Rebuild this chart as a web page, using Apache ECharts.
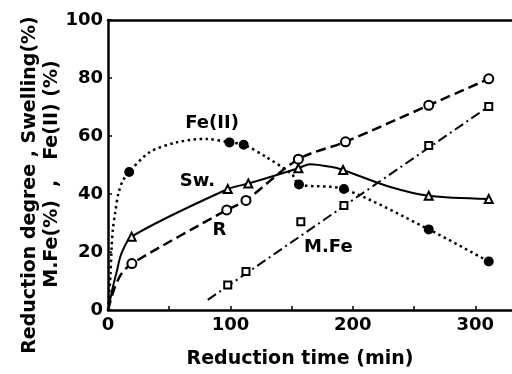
<!DOCTYPE html>
<html lang="en">
  <head>
    <meta charset="UTF-8" />
    <title>Reduction time chart</title>
    <script src="https://cdnjs.cloudflare.com/ajax/libs/echarts/6.0.0/echarts.min.js"></script>
    <style>
      html, body { margin: 0; padding: 0; background: #fff; }
      #chart { width: 512px; height: 374px; }
    </style>
  </head>
  <body>
    <div id="chart"></div>
    <script type="text/javascript">
      // x ticks / labels
      const xTicks = [50, 100, 150, 200, 250, 300];
      const xLabels = [0, 100, 200, 300];

      // measured points [time (min), value (%)]
      const rPoints = [[19.5, 16], [97, 34.5], [112.7, 37.8], [155.5, 52], [194, 58], [262, 70.6], [311, 79.7]];
      const swPoints = [[19.3, 25.3], [97.8, 41.7], [114.6, 43.6], [155.5, 48.9], [192, 48.3], [262, 39.4], [311, 38.3]];
      const feIIPoints = [[17.3, 47.6], [99.2, 57.8], [110.8, 57], [156, 43.3], [192.7, 41.7], [262, 27.8], [311, 16.7]];
      const mFePoints = [[97.8, 8.6], [112.7, 13.3], [157.5, 30.4], [192.7, 36], [262, 56.7], [311, 70.2]];

      const rCurveExtra = [[0, 0], [3, 4.5], [5.7, 8], [11, 12.5]];
      const swCurveExtra = [[0, 0], [2, 4], [4.3, 8.5], [7, 13], [11, 19.5], [165, 50.3], [182, 49.4], [230, 42.5]];
      const feIICurveExtra = [[0, 0], [2, 12], [3, 22], [4, 28], [5.7, 33], [8.4, 40], [12, 44.5], [34, 54.4], [56, 57.8], [80, 59], [129, 52.8], [150.5, 46.7]];
      const mFeLine = [[81.5, 3.5], [311, 70.2]];

      // curve labels [x, y, text]
      const curveLabels = [[85, 64.5, "Fe(II)"], [73, 44.5, "Sw."], [91, 27.5, "R"], [180, 21.5, "M.Fe"]];

      const merge = (a, b) => a.concat(b).sort((p, q) => p[0] - q[0]);

      const dom = document.getElementById("chart");
      const myChart = echarts.init(dom);
      const font = "DejaVu Sans";

      const lineSeries = (data, type, width, extra) =>
        Object.assign(
          {
            type: "line",
            data: data,
            smooth: 0.3,
            showSymbol: false,
            silent: true,
            z: 2,
            lineStyle: { color: "#000", width: width, type: type },
          },
          extra || {}
        );

      const markSeries = (data, symbol, size, fill) => ({
        type: "scatter",
        data: data,
        symbol: symbol,
        symbolSize: size,
        z: 5,
        itemStyle: { color: fill, borderColor: "#000", borderWidth: 2, opacity: 1 },
      });

      const options = {
        animation: false,
        grid: { left: 108, right: 0, top: 20, bottom: 54 },
        xAxis: [
          {
            type: "value",
            min: 0,
            max: 330,
            name: "Reduction time (min)",
            nameLocation: "middle",
            nameGap: 40,
            nameTextStyle: { color: "#000", fontSize: 19, fontFamily: font, fontWeight: "bold", padding: [0, 20, 0, 0] },
            axisLine: { show: true, lineStyle: { color: "#000", width: 2.5 } },
            axisTick: { show: true, inside: true, length: 4, customValues: xTicks, lineStyle: { color: "#000", width: 1.5 } },
            axisLabel: { customValues: xLabels, color: "#000", fontSize: 18, fontFamily: font, fontWeight: "bold", margin: 6 },
            splitLine: { show: false },
          },
          {
            type: "value",
            position: "top",
            min: 0,
            max: 330,
            axisLine: { show: true, lineStyle: { color: "#000", width: 2.5 } },
            axisTick: { show: false },
            axisLabel: { show: false },
            splitLine: { show: false },
          },
        ],
        yAxis: {
          type: "value",
          min: 0,
          max: 100,
          interval: 20,
          axisLine: { show: true, lineStyle: { color: "#000", width: 2.5 } },
          axisTick: { show: true, inside: true, length: 4, lineStyle: { color: "#000", width: 1.5 } },
          axisLabel: { color: "#000", fontSize: 18, fontFamily: font, fontWeight: "bold", margin: 5 },
          splitLine: { show: false },
        },
        graphic: [
          {
            type: "text",
            rotation: Math.PI / 2,
            x: 30, y: 185,
            style: {
              text: "Reduction degree , Swelling(%)",
              fill: "#000",
              font: "bold 19px 'DejaVu Sans'",
              textAlign: "center",
              textVerticalAlign: "middle",
            },
          },
          {
            type: "text",
            rotation: Math.PI / 2,
            x: 52, y: 174,
            style: {
              text: "M.Fe(%)  ,   Fe(II) (%)",
              fill: "#000",
              font: "bold 19px 'DejaVu Sans'",
              textAlign: "center",
              textVerticalAlign: "middle",
            },
          },
        ],
        series: [
          lineSeries(merge(rPoints, rCurveExtra), [10, 5], 2.5),
          lineSeries(merge(swPoints, swCurveExtra), "solid", 2),
          lineSeries(merge(feIIPoints, feIICurveExtra), [2.5, 3.5], 2.5),
          lineSeries(mFeLine, [10, 4, 2, 4], 2, { smooth: false }),
          markSeries(rPoints, "circle", 9, "#fff"),
          markSeries(swPoints, "triangle", 8, "#fff"),
          markSeries(feIIPoints, "circle", 8, "#000"),
          markSeries(mFePoints, "rect", 7, "#fff"),
          {
            type: "scatter",
            data: curveLabels,
            symbolSize: 0,
            silent: true,
            itemStyle: { opacity: 1 },
            label: {
              show: true,
              position: "inside",
              formatter: (p) => p.data[2],
              color: "#000",
              fontSize: 18,
              fontFamily: font,
              fontWeight: "bold",
            },
          },
        ],
      };
      myChart.setOption(options);
    </script>
  </body>
</html>
